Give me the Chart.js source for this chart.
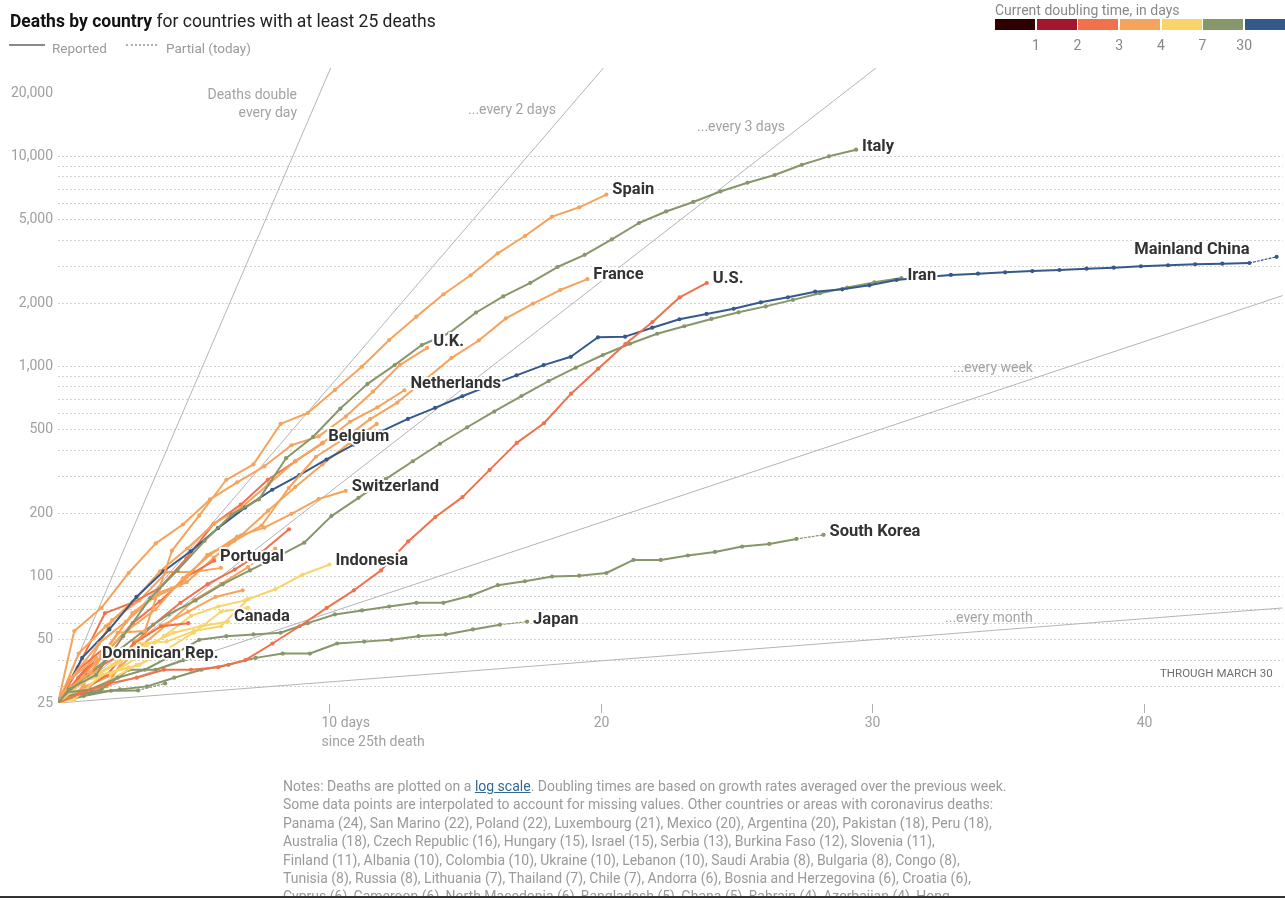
<!DOCTYPE html>
<html>
<head>
<meta charset="utf-8">
<title>Deaths by country</title>
<script src="https://cdn.jsdelivr.net/npm/chart.js@4.4.1/dist/chart.umd.min.js"></script>
<style>
  html, body { margin: 0; padding: 0; background: #fff; }
  body { width: 1285px; height: 902px; position: relative; overflow: hidden;
         font-family: Roboto, "Liberation Sans", Arial, sans-serif; }
  #chart { position: absolute; left: 0; top: 0; }
  .title { position: absolute; left: 10px; top: 11px; font-size: 17.5px; color: #222; white-space: nowrap; }
  .title b { font-weight: 700; color: #121212; }
  .key { position: absolute; top: 40px; font-size: 13.5px; color: #9a9a9a; white-space: nowrap; }
  .swatch-solid { position: absolute; left: 9px; top: 44px; width: 36px; height: 0; border-top: 2px solid #8a8a8a; }
  .swatch-dot { position: absolute; left: 126px; top: 44px; width: 31px; height: 0; border-top: 2px dotted #b0b0b0; }
  .scale-title { position: absolute; left: 995px; top: 2px; font-size: 14px; color: #888; white-space: nowrap; }
  .scale-box { position: absolute; top: 19px; height: 11px; }
  .scale-num { position: absolute; top: 37px; font-size: 14px; color: #888; width: 30px; margin-left: -15px; text-align: center; }
  .notes { position: absolute; left: 283px; top: 777px; width: 780px; height: 121px; overflow: hidden;
           font-size: 14px; line-height: 18.4px; color: #9a9a9a; white-space: nowrap; }
  .notes a { color: #326891; text-decoration: underline; }
  .rule { position: absolute; left: 0; top: 896px; width: 1285px; height: 2px; background: #333; }
</style>
</head>
<body>
<canvas id="chart" width="1285" height="902"></canvas>

<div class="title"><b>Deaths by country</b> for countries with at least 25 deaths</div>
<div class="swatch-solid"></div><div class="key" style="left:52px">Reported</div>
<div class="swatch-dot"></div><div class="key" style="left:166px">Partial (today)</div>

<div class="scale-title">Current doubling time, in days</div>
<div id="scale"></div>

<div class="notes">
Notes: Deaths are plotted on a <a>log scale</a>. Doubling times are based on growth rates averaged over the previous week.<br>
Some data points are interpolated to account for missing values. Other countries or areas with coronavirus deaths:<br>
Panama (24), San Marino (22), Poland (22), Luxembourg (21), Mexico (20), Argentina (20), Pakistan (18), Peru (18),<br>
Australia (18), Czech Republic (16), Hungary (15), Israel (15), Serbia (13), Burkina Faso (12), Slovenia (11),<br>
Finland (11), Albania (10), Colombia (10), Ukraine (10), Lebanon (10), Saudi Arabia (8), Bulgaria (8), Congo (8),<br>
Tunisia (8), Russia (8), Lithuania (7), Thailand (7), Chile (7), Andorra (6), Bosnia and Herzegovina (6), Croatia (6),<br>
Cyprus (6), Cameroon (6), North Macedonia (6), Bangladesh (5), Ghana (5), Bahrain (4), Azerbaijan (4), Hong
</div>
<div class="rule"></div>

<script>
// ---- Axis ranges and ticks ----
const DAY_MAX = 45.11;
const DEATHS_MIN = 25;
const DEATHS_MAX = 26400;
const xTickDays = [10, 20, 30, 40];
const yTickLabels = [25, 50, 100, 200, 500, 1000, 2000, 5000, 10000, 20000];
const yGridValues = [30, 40, 50, 60, 70, 80, 90, 100, 200, 300, 400, 500, 600, 700, 800, 900,
                     1000, 2000, 3000, 4000, 5000, 6000, 7000, 8000, 9000, 10000];
const yTickValues = [25].concat(yGridValues, [20000]);

// ---- Doubling-time colour key ----
const doublingLabels = ['1', '2', '3', '4', '7', '30'];
const doublingColors = ['#2f0000', '#a3172e', '#f0714b', '#f6a35c', '#f8d46a', '#87966b', '#35598a'];
const guidePeriods = [1, 2, 3, 7, 30];

// ---- Deaths per country: first report after the 25th death, then one value per day ----
const italyStart = 0.4;
const italyDeaths = [29, 34, 52, 79, 107, 148, 197, 233, 366, 463, 631, 827, 1016, 1266, 1441, 1809, 2158,
  2503, 2978, 3405, 4032, 4825, 5476, 6077, 6820, 7503, 8165, 9134, 10023, 10779];

const spainStart = 0.2;
const spainDeaths = [28, 35, 54, 55, 133, 195, 289, 342, 533, 601, 774, 1000, 1338, 1728, 2209, 2720,
  3462, 4185, 5172, 5733, 6585];

const franceStart = 0.5;
const franceDeaths = [33, 48, 61, 79, 91, 127, 148, 175, 264, 372, 450, 562, 674, 860, 1100, 1331, 1696,
  1995, 2314, 2606];

const usStart = 0.9;
const usDeaths = [28, 31, 33, 36, 36, 37, 40, 48, 58, 71, 86, 107, 147, 192, 239, 322, 433, 537, 743, 977,
  1280, 1630, 2137, 2500];

const chinaStart = 0.89;
const chinaDeaths = [41, 56, 80, 106, 132, 170, 213, 259, 304, 361, 425, 490, 563, 636, 722, 811, 908, 1016,
  1113, 1378, 1388, 1531, 1680, 1781, 1885, 2023, 2137, 2272, 2333, 2437, 2583, 2665, 2730, 2768, 2810,
  2850, 2882, 2923, 2957, 3003, 3036, 3070, 3090, 3113, 3330];

const iranStart = 0.07;
const iranDeaths = [26, 34, 43, 54, 66, 77, 92, 107, 124, 145, 194, 237, 291, 354, 429, 514, 611, 724, 853,
  988, 1135, 1284, 1433, 1556, 1685, 1812, 1934, 2077, 2234, 2378, 2517, 2640];

const ukStart = 0.6;
const ukDeaths = [55, 71, 104, 144, 177, 233, 281, 335, 422, 465, 578, 759, 1019, 1228];

const netherlandsStart = 0.76;
const netherlandsDeaths = [43, 58, 76, 106, 136, 179, 213, 276, 356, 434, 546, 639, 771];

const belgiumStart = 0.73;
const belgiumDeaths = [37, 67, 75, 88, 122, 178, 220, 289, 353, 431];

const switzerlandStart = 0.6;
const switzerlandDeaths = [30, 42, 56, 70, 98, 127, 155, 171, 199, 234, 256];

const southKoreaStart = 0.2;
const southKoreaDeaths = [28, 29, 33, 36, 42, 50, 52, 53, 54, 60, 66, 69, 72, 75, 75, 81, 91, 95, 100, 101,
  104, 120, 120, 126, 131, 139, 143, 151, 158];

const portugalStart = 0.75;
const portugalDeaths = [33, 43, 60, 76, 100, 119];

const indonesiaStart = 1;
const indonesiaDeaths = [32, 38, 48, 49, 55, 58, 78, 87, 102, 114];

const canadaStart = 0.26;
const canadaDeaths = [28, 33, 39, 47, 54, 58, 61];

const japanStart = 0.28;
const japanDeaths = [27, 28, 29, 30, 33, 36, 38, 41, 43, 43, 48, 49, 50, 52, 53, 56, 59, 61];

const dominicanStart = 0.4;
const dominicanDeaths = [32, 41];

const germanyStart = 0.74;
const germanyDeaths = [28, 44, 67, 84, 94, 123, 157, 206, 267, 342, 433, 533];

const turkeyStart = 0.51;
const turkeyDeaths = [30, 37, 44, 59, 75, 92, 108, 131, 168];

const brazilStart = 1;
const brazilDeaths = [30, 34, 46, 59, 77, 92, 111, 136];

const swedenStart = 1;
const swedenDeaths = [36, 62, 77, 105, 105, 110];

const austriaStart = 0.8;
const austriaDeaths = [28, 30, 49, 58, 68, 80, 86];

const denmarkStart = 0.9;
const denmarkDeaths = [32, 34, 41, 52, 65, 72, 77];

const philippinesStart = 1;
const philippinesDeaths = [33, 35, 38, 45, 54, 68, 71];

const irelandStart = 0.74;
const irelandDeaths = [36, 46];

const romaniaStart = 1.05;
const romaniaDeaths = [37, 44];

const ecuadorStart = 0.8;
const ecuadorDeaths = [28, 34, 48, 58, 60];

const algeriaStart = 0.95;
const algeriaDeaths = [27, 28.6, 28.7, 31];

const iraqStart = 0.6;
const iraqDeaths = [27, 29, 36, 36, 40, 42];

const greeceStart = 0.9;
const greeceDeaths = [28, 32, 38, 43];

const egyptStart = 0.5;
const egyptDeaths = [30, 36];

const malaysiaStart = 0.6;
const malaysiaDeaths = [26, 34, 37];

// ---- Series table (colour index = current doubling-time band) ----
const C = doublingColors;
const countries = [
  // unlabelled lines first, so the named ones sit on top
  { name: 'Germany', start: germanyStart, deaths: germanyDeaths, color: C[3] },
  { name: 'Turkey', start: turkeyStart, deaths: turkeyDeaths, color: C[2] },
  { name: 'Brazil', start: brazilStart, deaths: brazilDeaths, color: C[3], partial: true },
  { name: 'Sweden', start: swedenStart, deaths: swedenDeaths, color: C[3] },
  { name: 'Austria', start: austriaStart, deaths: austriaDeaths, color: C[3] },
  { name: 'Denmark', start: denmarkStart, deaths: denmarkDeaths, color: C[4] },
  { name: 'Philippines', start: philippinesStart, deaths: philippinesDeaths, color: C[4] },
  { name: 'Ireland', start: irelandStart, deaths: irelandDeaths, color: C[2] },
  { name: 'Romania', start: romaniaStart, deaths: romaniaDeaths, color: C[2] },
  { name: 'Ecuador', start: ecuadorStart, deaths: ecuadorDeaths, color: C[2] },
  { name: 'Algeria', start: algeriaStart, deaths: algeriaDeaths, color: C[5], partial: true },
  { name: 'Iraq', start: iraqStart, deaths: iraqDeaths, color: C[5] },
  { name: 'Greece', start: greeceStart, deaths: greeceDeaths, color: C[4] },
  { name: 'Egypt', start: egyptStart, deaths: egyptDeaths, color: C[3] },
  { name: 'Malaysia', start: malaysiaStart, deaths: malaysiaDeaths, color: C[4] },
  // labelled lines
  { name: 'Dominican Rep.', start: dominicanStart, deaths: dominicanDeaths, color: C[3], tag: true },
  { name: 'Canada', start: canadaStart, deaths: canadaDeaths, color: C[4], tag: true, tagDy: -5 },
  { name: 'Japan', start: japanStart, deaths: japanDeaths, color: C[5], tag: true, partial: true, tagDy: -2 },
  { name: 'Indonesia', start: indonesiaStart, deaths: indonesiaDeaths, color: C[4], tag: true },
  { name: 'Portugal', start: portugalStart, deaths: portugalDeaths, color: C[2], tag: true },
  { name: 'South Korea', start: southKoreaStart, deaths: southKoreaDeaths, color: C[5], tag: true, partial: true, tagDy: -3 },
  { name: 'Switzerland', start: switzerlandStart, deaths: switzerlandDeaths, color: C[3], tag: true },
  { name: 'Belgium', start: belgiumStart, deaths: belgiumDeaths, color: C[2], tag: true, tagDy: -6 },
  { name: 'Netherlands', start: netherlandsStart, deaths: netherlandsDeaths, color: C[3], tag: true, tagDy: -6 },
  { name: 'U.K.', start: ukStart, deaths: ukDeaths, color: C[3], tag: true, tagDy: -6 },
  { name: 'Iran', start: iranStart, deaths: iranDeaths, color: C[5], tag: true, tagDy: -2 },
  { name: 'Mainland China', start: chinaStart, deaths: chinaDeaths, color: C[6], tag: true, partial: true,
    tagAlign: 'right', tagFromEnd: 1, tagDx: 0, tagDy: -13 },
  { name: 'U.S.', start: usStart, deaths: usDeaths, color: C[2], tag: true },
  { name: 'France', start: franceStart, deaths: franceDeaths, color: C[3], tag: true },
  { name: 'Spain', start: spainStart, deaths: spainDeaths, color: C[3], tag: true, tagDy: -5 },
  { name: 'Italy', start: italyStart, deaths: italyDeaths, color: C[5], tag: true, tagDy: -3 }
];

// ---- Colour key boxes ----
(function buildKey() {
  const host = document.getElementById('scale');
  const left = 995, right = 1285, gap = 1.7;
  const w = (right - left - gap * (doublingColors.length - 1)) / doublingColors.length;
  doublingColors.forEach((c, i) => {
    const d = document.createElement('div');
    d.className = 'scale-box';
    d.style.left = (left + i * (w + gap)) + 'px';
    d.style.width = w + 'px';
    d.style.background = c;
    host.appendChild(d);
  });
  doublingLabels.forEach((t, i) => {
    const d = document.createElement('div');
    d.className = 'scale-num';
    d.style.left = (left + (i + 1) * (w + gap) - gap / 2) + 'px';
    d.textContent = t;
    host.appendChild(d);
  });
})();

// ---- Datasets ----
const FONT = 'Roboto, "Liberation Sans", Arial, sans-serif';

const guideDatasets = guidePeriods.map(d => {
  const xEnd = Math.min(DAY_MAX, d * Math.log2(DEATHS_MAX / DEATHS_MIN));
  return {
    label: 'every ' + d,
    data: [{ x: 0, y: DEATHS_MIN }, { x: xEnd, y: DEATHS_MIN * Math.pow(2, xEnd / d) }],
    borderColor: '#b4b4b4', borderWidth: 1, pointRadius: 0, order: 100
  };
});

const countryDatasets = countries.map((c, k) => {
  const pts = [{ x: 0, y: DEATHS_MIN }].concat(c.deaths.map((v, i) => ({ x: c.start + i, y: v })));
  const lastSeg = pts.length - 1;
  return {
    label: c.name,
    data: pts,
    borderColor: c.color,
    backgroundColor: c.color,
    pointBackgroundColor: c.color,
    borderWidth: 2,
    pointRadius: pts.map((p, i) => (i === 0 ? 2.4 : 2.1)),
    pointBorderWidth: 0,
    order: countries.length - k,
    tag: c.tag ? c.name : null,
    tagAlign: c.tagAlign || 'left',
    tagFromEnd: c.tagFromEnd || 0,
    tagDx: c.tagDx !== undefined ? c.tagDx : 6,
    tagDy: c.tagDy !== undefined ? c.tagDy : -4,
    segment: {
      borderDash: ctx => (c.partial && ctx.p1DataIndex === lastSeg) ? [2, 2] : undefined,
      borderWidth: ctx => (c.partial && ctx.p1DataIndex === lastSeg) ? 1.2 : undefined
    }
  };
});

// ---- Text drawn over the plot: guide notes, country names, day axis ----
const overlay = {
  id: 'overlay',
  afterDatasetsDraw(chart) {
    const { ctx, chartArea } = chart;
    ctx.save();

    // guide-line notes
    ctx.font = '14px ' + FONT;
    ctx.fillStyle = '#a3a3a3';
    ctx.textBaseline = 'middle';
    ctx.textAlign = 'right';
    ctx.fillText('Deaths double', 297, 95);
    ctx.fillText('every day', 297, 113);
    ctx.textAlign = 'left';
    ctx.fillText('...every 2 days', 468, 110);
    ctx.fillText('...every 3 days', 697, 127);
    ctx.fillText('...every week', 953, 368);
    ctx.fillText('...every month', 945, 618);

    ctx.font = '11.5px ' + FONT;
    ctx.fillStyle = '#6e6e6e';
    ctx.textAlign = 'right';
    ctx.fillText('THROUGH MARCH 30', chartArea.right - 10, 674);

    // country names at the end of their lines
    ctx.font = 'bold 16.5px ' + FONT;
    ctx.lineJoin = 'round';
    chart.data.datasets.forEach((ds, i) => {
      if (!ds.tag) return;
      const meta = chart.getDatasetMeta(i);
      const el = meta.data[meta.data.length - 1 - ds.tagFromEnd];
      const tx = el.x + ds.tagDx, ty = el.y + ds.tagDy;
      ctx.textAlign = ds.tagAlign;
      ctx.strokeStyle = 'rgba(255,255,255,0.95)';
      ctx.lineWidth = 4;
      ctx.strokeText(ds.tag, tx, ty);
      ctx.fillStyle = '#333333';
      ctx.fillText(ds.tag, tx, ty);
    });
    ctx.restore();
  },
  afterDraw(chart) {
    const { ctx, chartArea, scales } = chart;
    const xs = scales.x;
    ctx.save();
    ctx.strokeStyle = '#b0b0b0';
    ctx.lineWidth = 1;
    ctx.font = '14px ' + FONT;
    ctx.fillStyle = '#a0a0a0';
    ctx.textBaseline = 'middle';
    xTickDays.forEach((d, i) => {
      const px = Math.round(xs.getPixelForValue(d)) + 0.5;
      ctx.beginPath();
      ctx.moveTo(px, chartArea.bottom + 1);
      ctx.lineTo(px, chartArea.bottom + 10);
      ctx.stroke();
      if (i === 0) {
        ctx.textAlign = 'left';
        ctx.fillText(d + ' days', px - 8, chartArea.bottom + 20);
        ctx.fillText('since 25th death', px - 8, chartArea.bottom + 39);
      } else {
        ctx.textAlign = 'center';
        ctx.fillText(String(d), px, chartArea.bottom + 20);
      }
    });
    ctx.restore();
  }
};

new Chart(document.getElementById('chart'), {
  type: 'line',
  data: { datasets: guideDatasets.concat(countryDatasets) },
  options: {
    responsive: false,
    animation: false,
    devicePixelRatio: 1,
    events: [],
    layout: { padding: { top: 68, bottom: 199, left: 0, right: 0 } },
    plugins: { legend: { display: false }, tooltip: { enabled: false } },
    elements: {
      line: { tension: 0, borderJoinStyle: 'round', borderCapStyle: 'round' },
      point: { hoverRadius: 2 }
    },
    scales: {
      x: { type: 'linear', min: 0, max: DAY_MAX, display: false },
      y: {
        type: 'logarithmic', min: DEATHS_MIN, max: DEATHS_MAX, position: 'left',
        afterFit: s => { s.width = 58; },
        afterBuildTicks: s => { s.ticks = yTickValues.map(v => ({ value: v })); },
        ticks: {
          autoSkip: false, padding: 5, color: '#a0a0a0',
          font: { family: FONT, size: 14 },
          callback: v => yTickLabels.includes(v) ? v.toLocaleString('en-US') : ''
        },
        grid: {
          drawTicks: false, lineWidth: 1,
          color: c => (c.tick && yGridValues.includes(c.tick.value)) ? '#d2d2d2' : 'rgba(0,0,0,0)'
        },
        border: { display: false, dash: [2, 2] }
      }
    }
  },
  plugins: [overlay]
});
</script>
</body>
</html>
